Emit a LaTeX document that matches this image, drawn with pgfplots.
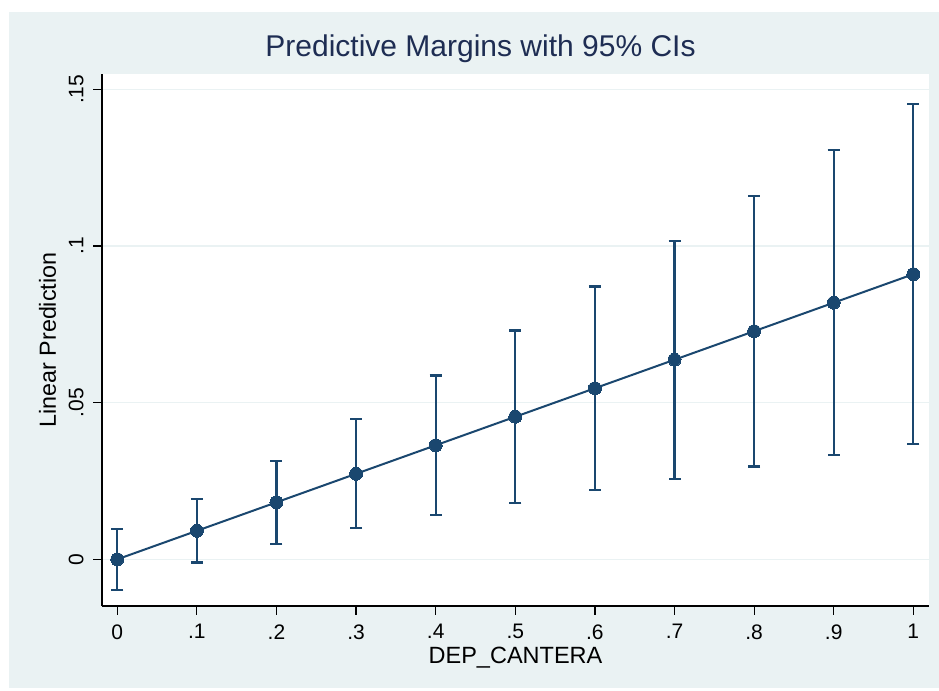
\documentclass[border=0pt]{standalone}
\usepackage{pgfplots}
\pgfplotsset{compat=1.18}
\usepackage{pgfplotstable}
\usepackage{fontspec}
\setmainfont{Liberation Sans}
\definecolor{stata}{RGB}{26,71,111}
\definecolor{bgc}{RGB}{234,242,243}
\definecolor{titlec}{RGB}{30,45,83}
\pgfplotstableread{
x y e
0.0 0.0000 0.0098
0.1 0.0091 0.0101
0.2 0.0182 0.0133
0.3 0.0273 0.0174
0.4 0.0364 0.0223
0.5 0.0455 0.0275
0.6 0.0546 0.0325
0.7 0.0637 0.0380
0.8 0.0728 0.0432
0.9 0.0819 0.0487
1.0 0.0910 0.0542
}\margins
\begin{document}
\begin{tikzpicture}
\useasboundingbox (0,0) rectangle (939bp,691bp);
\fill[white] (0,0) rectangle (939bp,691bp);
\fill[bgc] (9bp,3bp) rectangle (939bp,679bp);
\begin{axis}[
  at={(102bp,85bp)}, anchor=south west,
  scale only axis, width=827bp, height=532bp,
  xmin=-0.0192, xmax=1.0197, ymin=-0.0149, ymax=0.1549,
  axis background/.style={fill=white},
  axis x line*=bottom, axis y line*=left,
  axis line style={black, line width=1.2bp},
  tick style={black, line width=1.2bp},
  tick align=outside, major tick length=9bp,
  xtick={0,0.1,0.2,0.3,0.4,0.5,0.6,0.7,0.8,0.9,1},
  xticklabels={0,.1,.2,.3,.4,.5,.6,.7,.8,.9,1},
  ytick={0,0.05,0.1,0.15},
  yticklabels={0,.05,.1,.15},
  ticklabel style={font=\fontsize{21bp}{25bp}\selectfont},
  xticklabel style={yshift=-6bp},
  yticklabel style={rotate=90, anchor=south, yshift=6bp},
  ymajorgrids, major grid style={color=bgc, line width=1.5bp},
  title={Predictive Margins with 95\% CIs},
  title style={at={(axis description cs:0.4577,1.022)}, anchor=base, color=titlec, font=\fontsize{30bp}{34bp}\selectfont},
  xlabel={DEP\_CANTERA},
  xlabel style={at={(axis description cs:0.5,-0.109)}, anchor=base, font=\fontsize{23.5bp}{28bp}\selectfont},
  ylabel={Linear Prediction},
  ylabel style={at={(axis description cs:-0.0659,0.5)}, anchor=center, rotate=0, font=\fontsize{23.3bp}{28bp}\selectfont},
  clip=false,
]
\addplot[color=stata, line width=2bp, mark=*, mark size=6.5bp,
  mark options={fill=stata, draw=stata, line width=0pt},
  error bars/.cd, y dir=both, y explicit,
  error bar style={line width=2.2bp, color=stata},
  error mark options={line width=2.2bp, mark size=6bp, color=stata, rotate=90}]
  table[x=x, y=y, y error=e] {\margins};
\end{axis}
\end{tikzpicture}
\end{document}
